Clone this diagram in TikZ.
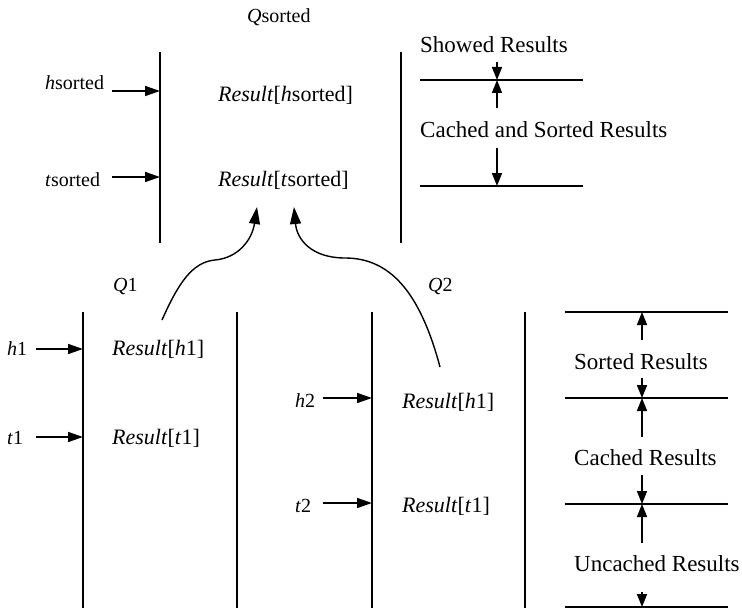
\documentclass[tikz,border=0pt]{standalone}
\usepackage{fontspec}
\setmainfont{Liberation Serif}
\usetikzlibrary{arrows.meta}
\begin{document}
\begin{tikzpicture}[x=1pt,y=-1pt,
  lbl/.style={anchor=base west,inner sep=0pt,font=\fontsize{20}{24}\selectfont},
  res/.style={anchor=base west,inner sep=0pt,font=\fontsize{22}{26}\selectfont},
  band/.style={anchor=base west,inner sep=0pt,font=\fontsize{23}{27}\selectfont},
  wall/.style={line width=1.6pt},
  ptr/.style={line width=1.6pt,-{Triangle[length=15pt,width=10pt]}},
  span/.style={line width=1.6pt,-{Triangle[length=13pt,width=10pt]}},
  link/.style={line width=1.4pt,-{Triangle[length=17pt,width=11pt]}}]
\useasboundingbox (0,0) rectangle (742,610);

% ---- sorted queue ----
\node[lbl] (qs) at (247,23) {\textit{Q}sorted};
\coordinate (qsT) at (160,52);  \coordinate (qsB) at (160,243);
\coordinate (qsT2) at (401,52); \coordinate (qsB2) at (401,243);
\draw[wall] (qsT) -- (qsB);
\draw[wall] (qsT2) -- (qsB2);
\node[lbl] (hs) at (45,90) {\textit{h}sorted};
\node[lbl] (ts) at (45,186) {\textit{t}sorted};
\coordinate (hsA) at (112,91);  \coordinate (hsB) at (160,91);
\coordinate (tsA) at (112,177); \coordinate (tsB) at (160,177);
\draw[ptr] (hsA) -- (hsB);
\draw[ptr] (tsA) -- (tsB);
\node[res] (rhs) at (218,101) {\textit{Result}[\textit{h}sorted]};
\node[res] (rts) at (218,186) {\textit{Result}[\textit{t}sorted]};

% legend of the sorted queue
\node[band] (show) at (420,53) {Showed Results};
\node[band] (cas) at (420,137) {Cached and Sorted Results};
\coordinate (l1a) at (420,80);  \coordinate (l1b) at (583,80);
\coordinate (l2a) at (420,186); \coordinate (l2b) at (583,186);
\draw[wall] (l1a) -- (l1b);
\draw[wall] (l2a) -- (l2b);
\coordinate (m1) at (497,80); \coordinate (m2) at (497,186);
\coordinate (s1) at (497,62); \coordinate (s2) at (497,108); \coordinate (s3) at (497,148);
\draw[span] (s1) -- (m1);
\draw[span] (s2) -- (m1);
\draw[span] (s3) -- (m2);

% ---- queue Q1 ----
\node[lbl] (q1) at (113,291) {\textit{Q}1};
\coordinate (q1T) at (83,312);  \coordinate (q1B) at (83,608);
\coordinate (q1T2) at (237,312); \coordinate (q1B2) at (237,608);
\draw[wall] (q1T) -- (q1B);
\draw[wall] (q1T2) -- (q1B2);
\node[lbl] (h1) at (7,355) {\textit{h}1};
\node[lbl] (t1) at (7,444) {\textit{t}1};
\coordinate (h1A) at (36,349); \coordinate (h1B) at (83,349);
\coordinate (t1A) at (36,437); \coordinate (t1B) at (83,437);
\draw[ptr] (h1A) -- (h1B);
\draw[ptr] (t1A) -- (t1B);
\node[res] (rh1) at (112,355) {\textit{Result}[\textit{h}1]};
\node[res] (rt1) at (112,444) {\textit{Result}[\textit{t}1]};

% ---- queue Q2 ----
\node[lbl] (q2) at (428,291) {\textit{Q}2};
\coordinate (q2T) at (372,312);  \coordinate (q2B) at (372,608);
\coordinate (q2T2) at (525,312); \coordinate (q2B2) at (525,608);
\draw[wall] (q2T) -- (q2B);
\draw[wall] (q2T2) -- (q2B2);
\node[lbl] (h2) at (295,407) {\textit{h}2};
\node[lbl] (t2) at (295,512) {\textit{t}2};
\coordinate (h2A) at (323,398); \coordinate (h2B) at (372,398);
\coordinate (t2A) at (323,503); \coordinate (t2B) at (372,503);
\draw[ptr] (h2A) -- (h2B);
\draw[ptr] (t2A) -- (t2B);
\node[res] (rh2) at (402,408) {\textit{Result}[\textit{h}1]};
\node[res] (rt2) at (402,512) {\textit{Result}[\textit{t}1]};

% merge of Q1 and Q2 into the sorted queue
\coordinate (c1s) at (162,320); \coordinate (c1e) at (257,207);
\coordinate (c2s) at (440,367); \coordinate (c2e) at (294,207);
\draw[link] (c1s) .. controls (178,284) and (192,262) .. (215,260)
  .. controls (238,258) and (252,240) .. (c1e);
\draw[link] (c2s) .. controls (420,292) and (390,258) .. (345,258)
  .. controls (312,258) and (297,240) .. (c2e);

% legend of the unsorted queues
\coordinate (r1a) at (565,312); \coordinate (r1b) at (728,312);
\coordinate (r2a) at (565,398); \coordinate (r2b) at (728,398);
\coordinate (r3a) at (565,504); \coordinate (r3b) at (728,504);
\coordinate (r4a) at (565,607); \coordinate (r4b) at (728,607);
\draw[wall] (r1a) -- (r1b);
\draw[wall] (r2a) -- (r2b);
\draw[wall] (r3a) -- (r3b);
\draw[wall] (r4a) -- (r4b);
\node[band] (sr) at (574,369) {Sorted Results};
\node[band] (cr) at (574,465) {Cached Results};
\node[band] (ur) at (574,571) {Uncached Results};
\coordinate (n1) at (642,312); \coordinate (n2) at (642,398);
\coordinate (n3) at (642,504); \coordinate (n4) at (642,607);
\coordinate (u1) at (642,340); \coordinate (u2) at (642,378);
\coordinate (u3) at (642,437); \coordinate (u4) at (642,475);
\coordinate (u5) at (642,543); \coordinate (u6) at (642,592);
\draw[span] (u1) -- (n1);
\draw[span] (u2) -- (n2);
\draw[span] (u3) -- (n2);
\draw[span] (u4) -- (n3);
\draw[span] (u5) -- (n3);
\draw[span] (u6) -- (n4);
\end{tikzpicture}
\end{document}
